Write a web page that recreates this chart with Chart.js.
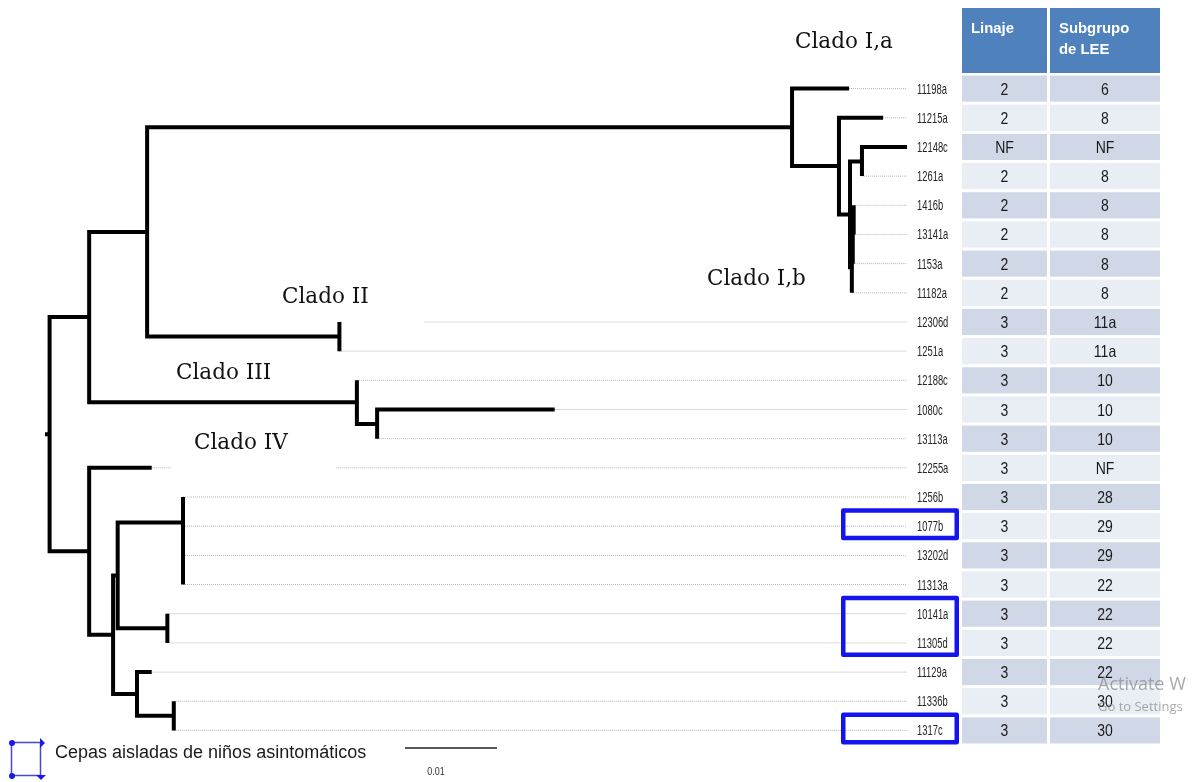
<!DOCTYPE html>
<html>
<head>
<meta charset="utf-8">
<title>Árbol filogenético de cepas</title>
<script src="https://cdn.jsdelivr.net/npm/chart.js@4.4.1/dist/chart.umd.min.js"></script>
<style>
  html, body { margin: 0; padding: 0; background: #ffffff; }
  canvas { display: block; }
</style>
</head>
<body>
<canvas id="arbol" width="1194" height="782"></canvas>
<script>
// Cepas (hojas), de arriba abajo
const leafNames = ['11198a', '11215a', '12148c', '1261a', '1416b', '13141a', '1153a', '11182a',
  '12306d', '1251a', '12188c', '1080c', '13113a', '12255a', '1256b', '1077b', '13202d',
  '11313a', '10141a', '11305d', '11129a', '11336b', '1317c'];
// Nodo del que cuelga cada hoja y longitud de su rama (sustituciones/sitio)
const leafParent = ['I', 'Q', 'J', 'J', 'K3', 'K3', 'K2', 'K', 'II', 'II', 'III', 'III2', 'III2',
  'IV', 'D', 'D2', 'D3', 'D3', 'E', 'E', 'F', 'G', 'G'];
const leafBranch = [0.0062, 0.0048, 0.0049, 0, 0, 0, 0, 0, 0, 0, 0, 0.0193, 0,
  0.0068, 0, 0, 0, 0, 0, 0, 0.0016, 0, 0];
// Nodos internos, su nodo padre y longitud de rama
const nodeIds = ['root', 'A', 'P', 'I', 'Q', 'H', 'J', 'K', 'K2', 'K3', 'II', 'III', 'III2',
  'IV', 'B', 'C', 'D', 'D2', 'D3', 'E', 'F', 'G'];
const nodeParent = [null, 'root', 'A', 'P', 'I', 'Q', 'H', 'H', 'K', 'K2', 'P', 'A', 'III',
  'root', 'IV', 'B', 'C', 'D', 'D2', 'C', 'B', 'F'];
const nodeBranch = [0.0005, 0.0043, 0.0063, 0.0701, 0.0051, 0.0012, 0.0013, 0.0002, 0.0001, 0.0001,
  0.0209, 0.0291, 0.0022, 0.0043, 0.0026, 0.0005, 0.0071, 0, 0, 0.0054, 0.0026, 0.0040];
// Tabla: linaje y subgrupo de LEE por cepa
const tableHeaders = ['Linaje', 'Subgrupo\nde LEE'];
const linaje = ['2', '2', 'NF', '2', '2', '2', '2', '2', '3', '3', '3', '3', '3', '3', '3', '3',
  '3', '3', '3', '3', '3', '3', '3'];
const subgrupo = ['6', '8', 'NF', '8', '8', '8', '8', '8', '11a', '11a', '10', '10', '10', 'NF',
  '28', '29', '29', '22', '22', '22', '22', '30', '30'];
// Cepas aisladas de niños asintomáticos (recuadros azules)
const highlightGroups = [['1077b'], ['10141a', '11305d'], ['1317c']];
const cladeNames = ['Clado I,a', 'Clado I,b', 'Clado II', 'Clado III', 'Clado IV'];
const legendText = 'Cepas aisladas de niños asintomáticos';
const scaleBarValue = 0.01;
const scaleBarLabel = '0.01';

// ---- geometría del árbol a partir de padres y longitudes ----
const nodeIndex = {};
nodeIds.forEach((id, i) => { nodeIndex[id] = i; });
const children = {};
nodeIds.forEach(id => { children[id] = []; });
leafNames.forEach((name, i) => children[leafParent[i]].push({ leaf: i }));
nodeIds.forEach((id, i) => { if (nodeParent[i]) children[nodeParent[i]].push({ node: id }); });

const depthMemo = {};
function nodeDepth(id) {
  if (depthMemo[id] !== undefined) return depthMemo[id];
  const i = nodeIndex[id];
  const d = (nodeParent[i] ? nodeDepth(nodeParent[i]) : 0) + nodeBranch[i];
  depthMemo[id] = d;
  return d;
}
const heightMemo = {};
function childPos(c) {
  if (c.leaf !== undefined) {
    return { x: nodeDepth(leafParent[c.leaf]) + leafBranch[c.leaf], y: c.leaf };
  }
  return { x: nodeDepth(c.node), y: nodeY(c.node) };
}
function nodeY(id) {
  if (heightMemo[id] !== undefined) return heightMemo[id];
  const ys = children[id].map(c => childPos(c).y);
  const y = (Math.min(...ys) + Math.max(...ys)) / 2;
  heightMemo[id] = y;
  return y;
}

const leafX = leafNames.map((_, i) => nodeDepth(leafParent[i]) + leafBranch[i]);
const tipMax = Math.max(...leafX);

const GAP = { x: null, y: null };
const branchPts = [];
// tallo de la raíz
branchPts.push({ x: 0, y: nodeY('root') }, { x: nodeDepth('root'), y: nodeY('root') }, GAP);
nodeIds.forEach(id => {
  const nx = nodeDepth(id);
  const ch = children[id].map(childPos).sort((a, b) => a.y - b.y);
  const first = ch[0], last = ch[ch.length - 1];
  branchPts.push({ x: first.x, y: first.y }, { x: nx, y: first.y }, { x: nx, y: last.y },
    { x: last.x, y: last.y }, GAP);
  ch.slice(1, -1).forEach(c => branchPts.push({ x: nx, y: c.y }, { x: c.x, y: c.y }, GAP));
});

const leaderPts = [];
leafNames.forEach((_, i) => {
  leaderPts.push({ x: leafX[i], y: i }, { x: tipMax, y: i }, GAP);
});

// ---- rótulos y tabla ----
const cladeLayout = [
  { x: 795, y: 48, cover: null },
  { x: 707, y: 285, cover: null },
  { x: 282, y: 303, cover: [268, 278, 424, 334] },
  { x: 176, y: 379, cover: null },
  { x: 194, y: 449, cover: [172, 424, 336, 480] }
];
const COL = [[962, 1047], [1050, 1160]];
const HEADER = [8, 73];

function drawText(ctx, s, x, y, font, color, align, sx) {
  ctx.save();
  ctx.font = font;
  ctx.fillStyle = color;
  ctx.textAlign = align || 'left';
  ctx.textBaseline = 'alphabetic';
  ctx.translate(x, y);
  ctx.scale(sx || 1, 1);
  ctx.fillText(s, 0, 0);
  ctx.restore();
}

const overlay = {
  id: 'overlay',
  afterDatasetDraw(chart, args) {
    if (args.index !== 0) return;
    const ctx = chart.ctx;
    ctx.save();
    ctx.fillStyle = '#ffffff';
    cladeLayout.forEach(c => {
      if (c.cover) ctx.fillRect(c.cover[0], c.cover[1], c.cover[2] - c.cover[0], c.cover[3] - c.cover[1]);
    });
    ctx.restore();
  },
  afterDraw(chart) {
    const ctx = chart.ctx;
    const xs = chart.scales.x, ys = chart.scales.y;
    const rowH = Math.abs(ys.getPixelForValue(1) - ys.getPixelForValue(0));
    const labelX = xs.getPixelForValue(tipMax) + 10;

    // nombres de cepas
    leafNames.forEach((name, i) => {
      drawText(ctx, name, labelX, ys.getPixelForValue(i) + 5, '14px "Liberation Sans", Arial, sans-serif', '#262626', 'left', 0.67);
    });

    // cabecera de la tabla
    ctx.save();
    ctx.fillStyle = '#4F81BD';
    COL.forEach(c => ctx.fillRect(c[0], HEADER[0], c[1] - c[0], HEADER[1] - HEADER[0]));
    ctx.restore();
    tableHeaders.forEach((h, k) => {
      h.split('\n').forEach((line, j) => {
        drawText(ctx, line, COL[k][0] + 9, 33 + j * 21, 'bold 15.5px "Liberation Sans", Arial, sans-serif', '#ffffff', 'left', 0.96);
      });
    });

    // filas de la tabla
    const cellH = rowH - 3;
    leafNames.forEach((_, i) => {
      const cy = ys.getPixelForValue(i);
      ctx.save();
      ctx.fillStyle = i % 2 === 0 ? '#D0D8E8' : '#E9EDF4';
      COL.forEach(c => ctx.fillRect(c[0], cy - cellH / 2, c[1] - c[0], cellH));
      ctx.restore();
      [linaje[i], subgrupo[i]].forEach((v, k) => {
        drawText(ctx, v, (COL[k][0] + COL[k][1]) / 2, cy + 6, '16.5px "Liberation Sans", Arial, sans-serif', '#1a1a1a', 'center', 0.85);
      });
    });

    // recuadros azules
    ctx.save();
    ctx.strokeStyle = '#1414ee';
    ctx.lineWidth = 4.5;
    ctx.lineJoin = 'round';
    highlightGroups.forEach(g => {
      const idx = g.map(n => leafNames.indexOf(n));
      const top = ys.getPixelForValue(Math.min(...idx)) - 18;
      const bot = ys.getPixelForValue(Math.max(...idx)) + 14;
      const left = 841, right = 959;
      ctx.strokeRect(left + 2.25, top + 2.25, right - left - 4.5, bot - top - 4.5);
    });
    ctx.restore();

    // nombres de clados
    cladeNames.forEach((name, k) => {
      const c = cladeLayout[k];
      drawText(ctx, name, c.x, c.y, '21.5px "DejaVu Serif", serif', '#111111', 'left', 1);
    });

    // leyenda
    ctx.save();
    ctx.strokeStyle = '#4646d8';
    ctx.lineWidth = 1.5;
    ctx.strokeRect(11.5, 742.5, 29, 33);
    ctx.fillStyle = '#1a1ae6';
    ctx.beginPath(); ctx.arc(12, 743, 3, 0, Math.PI * 2); ctx.fill();
    ctx.beginPath(); ctx.arc(12, 776, 3, 0, Math.PI * 2); ctx.fill();
    ctx.beginPath(); ctx.moveTo(40, 738); ctx.lineTo(45, 743); ctx.lineTo(40, 748); ctx.closePath(); ctx.fill();
    ctx.beginPath(); ctx.moveTo(36, 775); ctx.lineTo(46, 775); ctx.lineTo(41, 780); ctx.closePath(); ctx.fill();
    ctx.restore();
    drawText(ctx, legendText, 55, 758, '18px "Liberation Sans", Arial, sans-serif', '#1a1a1a', 'left', 1);

    // barra de escala
    const sbLeft = 405;
    const sbLen = xs.getPixelForValue(scaleBarValue) - xs.getPixelForValue(0);
    ctx.save();
    ctx.strokeStyle = '#222222';
    ctx.lineWidth = 1.5;
    ctx.beginPath();
    ctx.moveTo(sbLeft, 748);
    ctx.lineTo(sbLeft + sbLen, 748);
    ctx.stroke();
    ctx.restore();
    drawText(ctx, scaleBarLabel, sbLeft + sbLen / 2 - 15, 775, '10px "Liberation Sans", Arial, sans-serif', '#333333', 'center', 0.9);

    // marca de agua del sistema
    drawText(ctx, 'Activate W', 1098, 690, '18px "Open Sans", "Noto Sans", sans-serif', 'rgba(140,140,140,0.75)', 'left', 1);
    drawText(ctx, 'Go to Settings', 1098, 711, '13px "Open Sans", "Noto Sans", sans-serif', 'rgba(140,140,140,0.75)', 'left', 1);
  }
};

new Chart(document.getElementById('arbol').getContext('2d'), {
  type: 'scatter',
  data: {
    datasets: [
      {
        label: 'guías',
        data: leaderPts,
        showLine: true,
        spanGaps: false,
        borderColor: '#b4b4b4',
        borderWidth: 1,
        borderDash: [1, 1],
        pointRadius: 0,
        order: 2
      },
      {
        label: 'ramas',
        data: branchPts,
        showLine: true,
        spanGaps: false,
        borderColor: '#000000',
        borderWidth: 4,
        borderJoinStyle: 'miter',
        borderCapStyle: 'butt',
        pointRadius: 0,
        order: 1
      }
    ]
  },
  options: {
    responsive: false,
    animation: false,
    devicePixelRatio: 1,
    events: [],
    layout: { padding: { left: 45, right: 229, top: 74, bottom: 37 } },
    scales: {
      x: { type: 'linear', display: false, min: 0, max: 0.1 },
      y: { type: 'linear', display: false, min: -0.5, max: 22.5, reverse: true }
    },
    plugins: {
      legend: { display: false },
      tooltip: { enabled: false }
    }
  },
  plugins: [overlay]
});
</script>
</body>
</html>
